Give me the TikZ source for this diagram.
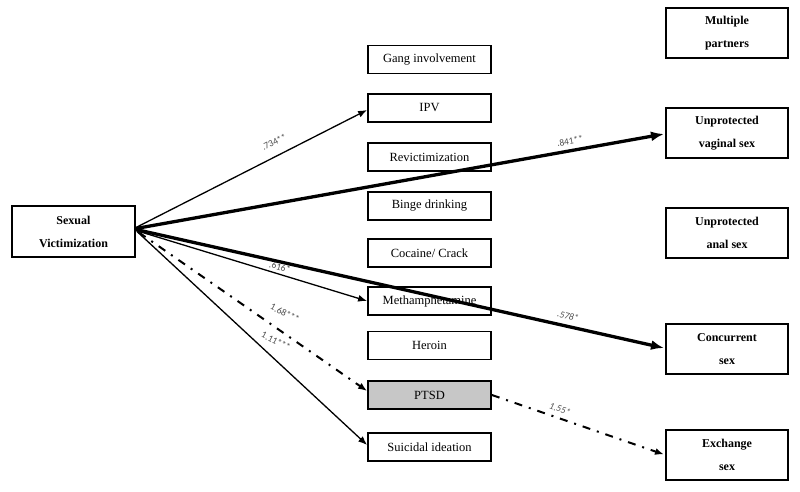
\documentclass[tikz,border=0pt]{standalone}
\usepackage{fontspec}
\setmainfont{Liberation Serif}
\newfontfamily\labfont{Carlito}
\usetikzlibrary{arrows.meta,calc}
\begin{document}
\begin{tikzpicture}[x=1pt,y=-1pt,
  box/.style={draw, line width=1.8pt, minimum width=123pt, minimum height=28pt, inner sep=0pt, font=\fontsize{12.5}{14}\selectfont, fill=white},
  bigbox/.style={draw, line width=2pt, minimum width=122pt, minimum height=50pt, inner sep=0pt, align=center, font=\fontsize{12}{23}\bfseries\selectfont, fill=white},
  thinarr/.style={line width=1.3pt, -{Latex[length=9pt,width=7pt]}},
  thickarr/.style={line width=3.3pt, -{Latex[length=13pt,width=10pt]}},
  dd/.style={line width=2pt, dash pattern=on 8pt off 7pt on 2pt off 7pt, -{Latex[length=9pt,width=7pt]}},
  lab/.style={font=\labfont\fontsize{9.5}{10}\selectfont, text=black!70, inner sep=0pt}
]
\useasboundingbox (0,0) rectangle (800,492);
% left
\node[bigbox, minimum width=123pt, minimum height=51pt] (sv) at (73.5,231.5) {Sexual\\Victimization};
% middle
\node[box] (gang) at (429.5,59.5) {Gang involvement};
\node[box] (ipv) at (429.5,108) {IPV};
\node[box] (rev) at (429.5,157) {Revictimization};
\node[box] (binge) at (429.5,206) {Binge drinking};
\node[box] (coc) at (429.5,253) {Cocaine/ Crack};
\node[box] (meth) at (429.5,301) {Methamphetamine};
\node[box] (her) at (429.5,345.5) {Heroin};
\node[box, fill=black!22] (ptsd) at (429.5,395) {PTSD};
\node[box] (sui) at (429.5,447) {Suicidal ideation};
% right
\node[bigbox] (mp) at (727,33.5) {Multiple\\partners};
\node[bigbox] (uvs) at (727,133) {Unprotected\\vaginal sex};
\node[bigbox] (uas) at (727,233) {Unprotected\\anal sex};
\node[bigbox] (cs) at (727,349) {Concurrent\\sex};
\node[bigbox] (es) at (727,454.5) {Exchange\\sex};
% arrows
\draw[thinarr] ($(sv.east)+(0,-4)$) -- ($(ipv.west)+(0,2)$);
\draw[thickarr] ($(sv.east)+(0,-3)$) -- ($(uvs.west)+(-1,1)$);
\draw[thickarr] ($(sv.east)+(0,-2)$) -- ($(cs.west)+(-1,-1)$);
\draw[thinarr] ($(sv.east)+(0,-1)$) -- (meth.west);
\draw[dd] ($(sv.east)+(3,1)$) -- ($(ptsd.west)+(0,-4)$);
\draw[thinarr] ($(sv.east)+(1,0)$) -- ($(sui.west)+(0,-2)$);
\draw[dd] (ptsd.east) -- ($(es.west)+(-1,0)$);
% labels
\node[lab, rotate=26.9] (l1) at (274,142) {.734**};
\node[lab, rotate=10.1] (l2) at (570,141) {.841**};
\node[lab, rotate=-16.7] (l3) at (280,267) {.616*};
\node[lab, rotate=-27] (l4) at (285,313) {1.68***};
\node[lab, rotate=-27] (l5) at (276,341) {1.11***};
\node[lab, rotate=-12.7] (l6) at (568,316) {\itshape .578*};
\node[lab, rotate=-18.9] (l7) at (560,409) {\itshape 1.55*};
\end{tikzpicture}
\end{document}
